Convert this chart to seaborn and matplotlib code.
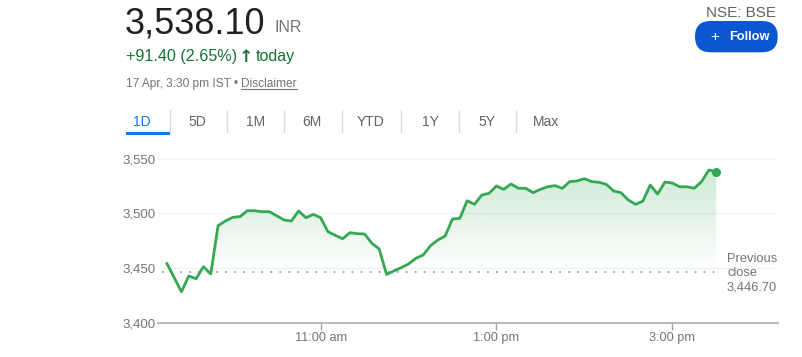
import matplotlib
matplotlib.use("Agg")
import matplotlib.pyplot as plt
import matplotlib.dates as mdates
from matplotlib.patches import FancyBboxPatch, Rectangle
from matplotlib.lines import Line2D
from matplotlib.transforms import IdentityTransform
from matplotlib.colors import to_rgb
import numpy as np
import pandas as pd
import seaborn as sns

# ---------------- data (5 minute prices, 17 Apr) ----------------
prices = [3454.3, 3441.3, 3428.3, 3442.7, 3440.2, 3451.2, 3444.5, 3488.7, 3493.0, 3496.3,
          3497.0, 3502.4, 3502.4, 3501.5, 3501.5, 3497.8, 3493.9, 3493.0, 3502.1, 3496.0,
          3499.0, 3496.0, 3483.2, 3479.9, 3476.8, 3482.3, 3481.4, 3481.1, 3472.6, 3467.4,
          3444.2, 3447.3, 3450.3, 3453.7, 3458.9, 3461.9, 3470.4, 3475.6, 3479.2, 3494.8,
          3495.4, 3511.5, 3508.2, 3516.7, 3518.3, 3525.0, 3521.9, 3526.8, 3522.9, 3522.9,
          3518.9, 3521.9, 3524.3, 3525.3, 3522.9, 3529.0, 3529.6, 3531.7, 3529.0, 3528.4,
          3526.5, 3520.4, 3518.9, 3512.2, 3508.2, 3511.2, 3525.9, 3517.6, 3528.6, 3527.7,
          3524.3, 3524.3, 3522.9, 3529.0, 3539.6, 3538.1]
session_start = "2024-04-17 09:15"
prev_close = 3446.70
last_price = 3538.10
change = 91.40
change_pct = 2.65

y_ticks = [3400, 3450, 3500, 3550]
x_tick_times = ["2024-04-17 11:00", "2024-04-17 13:00", "2024-04-17 15:00"]
x_tick_labels = ["11:00 am", "1:00 pm", "3:00 pm"]
tabs = ["1D", "5D", "1M", "6M", "YTD", "1Y", "5Y", "Max"]

times = pd.date_range(session_start, periods=len(prices), freq="5min")
df = pd.DataFrame({"time": times, "price": prices})

GREEN = "#34a853"
TXT_GREEN = "#137333"
GREY = "#70757a"
DARK = "#202124"
BLUE = "#0b57d0"

sns.set_theme(style="white")
plt.rcParams['font.family'] = ['Liberation Sans', 'DejaVu Sans']

W, H = 802, 357
fig = plt.figure(figsize=(W / 100, H / 100), dpi=100)
fig.patch.set_facecolor("white")


def ftext(x, y, s, **kw):
    # x, y in pixels from top left
    kw.setdefault("va", "baseline")
    return fig.text(x / W, 1 - y / H, s, **kw)


# ---------------- chart ----------------
ax = fig.add_axes([158 / W, 1 - 322.7 / H, 619.7 / W, 175.0 / H])
sns.lineplot(data=df, x="time", y="price", ax=ax, color=GREEN, lw=2, zorder=4)

xn = mdates.date2num(df["time"])
poly = ax.fill_between(xn, prices, prev_close, color="none", lw=0)
rgba = np.zeros((256, 1, 4))
rgba[..., :3] = to_rgb(GREEN)
rgba[..., 3] = np.linspace(0.24, 0.0, 256)[:, None]
im = ax.imshow(rgba, extent=[xn[0], xn[-1], prev_close, max(prices)],
               aspect="auto", origin="upper", zorder=2, interpolation="bilinear")
im.set_clip_path(poly.get_paths()[0], transform=ax.transData)

ax.plot(xn[-1], prices[-1], "o", color=GREEN, ms=5.5, zorder=5)

t0 = mdates.date2num(pd.Timestamp("2024-04-17 09:09"))
t1 = mdates.date2num(pd.Timestamp("2024-04-17 16:12"))
ax.hlines(prev_close, mdates.date2num(pd.Timestamp("2024-04-17 09:12")),
          mdates.date2num(pd.Timestamp("2024-04-17 15:34")),
          colors="#9aa0a6", lw=1.3, linestyles=(0, (1, 4)), zorder=3)

ax.set_xlim(t0, t1)
ax.set_ylim(3400, 3560)
ax.set_yticks(y_ticks)
ax.set_yticklabels([f"{v:,.0f}" for v in y_ticks])
ax.set_xticks(mdates.date2num(pd.to_datetime(x_tick_times)))
ax.set_xticklabels(x_tick_labels)
ax.set_xlabel("")
ax.set_ylabel("")
ax.grid(axis="y", color="#f1f3f4", lw=1)
ax.set_axisbelow(True)
for s in ["top", "right", "left"]:
    ax.spines[s].set_visible(False)
ax.spines["bottom"].set_color("#b8bcc0")
ax.spines["bottom"].set_linewidth(1.5)
ax.tick_params(axis="x", length=5, width=1, color="#9aa0a6", labelsize=9.2,
               labelcolor=GREY, pad=2, bottom=True)
ax.tick_params(axis="y", length=0, labelsize=9.5, labelcolor=GREY, pad=2)
ax.set_facecolor("white")

ftext(727, 262, "Previous", fontsize=9.3, color=GREY)
ftext(727, 276, "close", fontsize=9.3, color=GREY)
ftext(727, 290, f"{prev_close:,.2f}", fontsize=9.3, color=GREY)

# ---------------- header ----------------
ftext(125, 33.3, f"{last_price:,.2f}", fontsize=26, color=DARK)
ftext(275, 31.7, "INR", fontsize=11.5, color=GREY)
ftext(126, 61.5, f"+{change:.2f} ({change_pct:.2f}%)", fontsize=11.6, color=TXT_GREEN)
ftext(245.5, 61.5, "\u2191", fontsize=12.5, color=TXT_GREEN, fontweight="bold",
      ha="center", family="DejaVu Sans")
ftext(256, 61.5, "today", fontsize=11.6, color=TXT_GREEN)

fig.canvas.draw()
r = fig.canvas.get_renderer()
t_date = ftext(126, 87, "17 Apr, 3:30 pm IST \u2022 ", fontsize=8.6, color=GREY)
bb = t_date.get_window_extent(r)
t_disc = fig.text(bb.x1 / W, 1 - 87 / H, "Disclaimer", fontsize=8.6, color=GREY, va="baseline")
bb2 = t_disc.get_window_extent(r)
fig.add_artist(Line2D([bb2.x0, bb2.x1], [H - 88.8, H - 88.8], transform=IdentityTransform(),
                      color=GREY, lw=0.8))

ftext(776, 17.3, "NSE: BSE", fontsize=11, color="#5f6368", ha="right")
fig.add_artist(FancyBboxPatch((695, H - 52.3), 82.7, 31.3,
                              boxstyle="round,pad=0,rounding_size=15.6",
                              transform=IdentityTransform(), fc=BLUE, ec="none"))
ftext(715, 36.7, "+", fontsize=11, color="white", ha="center", va="center")
ftext(749, 36.7, "Follow", fontsize=9.2, color="white", fontweight="bold",
      ha="center", va="center")

# ---------------- range tabs ----------------
tab_x = [142.3, 197.7, 256, 312.3, 371, 430.7, 486.7, 545.7]
for i, (lab, cx) in enumerate(zip(tabs, tab_x)):
    ftext(cx, 121.7, lab, fontsize=10, color="#1a73e8" if i == 0 else "#5f6368",
          ha="center", va="center")
    if i > 0:
        sx = (tab_x[i - 1] + cx) / 2
        fig.add_artist(Line2D([sx, sx], [H - 110, H - 131.7], transform=IdentityTransform(),
                              color="#dadce0", lw=1))
fig.add_artist(Rectangle((126, H - 135.3), 44, 3, transform=IdentityTransform(),
                         fc="#1a73e8", ec="none"))

fig.savefig("out.png", dpi=100)
